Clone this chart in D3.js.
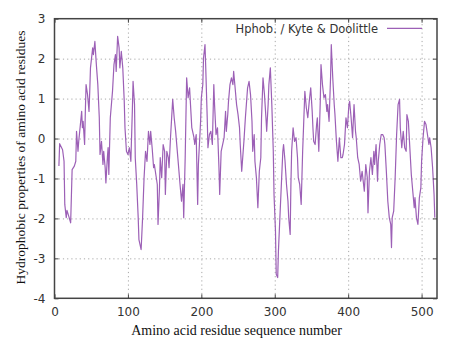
<!DOCTYPE html>
<html>
<head>
<meta charset="utf-8">
<script src="https://cdn.jsdelivr.net/npm/d3@7"></script>
<style>
  body { margin: 0; background: #fff; }
  svg { display: block; }
  .tick text { font-family: "DejaVu Sans", sans-serif; font-size: 12px; fill: #333; }
  .grid line { stroke: #a8a8a8; stroke-dasharray: 1.2,3; }
  .grid path { display: none; }
</style>
</head>
<body>
<div id="main"></div>
<script>
const ctx = {
    w: 455,
    h: 346,
    left: 54.5,
    right: 437,
    top: 18.7,
    bottom: 298.3,
    LINE_COLOR: "#9c60b6",
};

// residue number (x) and Kyte & Doolittle hydropathy (y)
const residues = [
  6,7,11,13,14,16,17,20,22,24,27,29,30,32,33,37,38,39,41,42,43,45,47,48,49,52,53,55,57,59,
  61,62,64,66,67,69,70,72,73,74,76,79,81,83,84,86,88,89,91,93,95,96,98,100,102,104,106,107,109,110,
  112,114,115,118,120,122,124,126,128,130,131,133,135,136,138,140,141,143,144,146,148,150,151,153,155,156,158,161,163,165,
  168,171,173,175,176,178,180,182,184,185,187,190,191,193,195,196,199,200,202,203,205,206,208,209,211,213,215,217,218,220,
  222,224,225,227,229,231,233,234,236,237,239,241,243,244,246,248,250,252,253,255,257,258,260,262,263,265,267,269,270,272,
  273,275,277,279,281,282,284,286,288,289,291,292,294,296,298,299,301,302,304,305,307,309,311,312,314,316,318,319,321,322,
  323,325,327,329,331,332,334,336,338,340,341,343,345,347,349,351,352,353,355,357,358,360,362,363,365,367,369,371,372,374,
  376,377,379,381,382,384,386,388,390,392,393,395,397,399,401,402,404,406,408,410,411,413,415,417,419,421,422,424,426,427,
  429,431,433,435,436,438,440,441,443,445,447,449,450,452,454,456,458,459,460,462,464,466,468,470,471,473,475,477,479,480,
  482,484,486,488,490,491,493,495,497,499,500,502,504,506,508,510,511,513,515,517,518
];
const hydropathy = [
  -0.69,-0.13,-0.28,-0.57,-1.65,-1.98,-1.80,-1.98,-2.11,-0.78,-0.69,-0.57,0.18,-0.32,-0.07,0.68,0.27,0.43,-0.15,0.68,1.35,1.10,0.68,1.18,1.77,2.27,2.10,2.43,1.85,1.35,
  0.52,-0.40,-0.07,-0.65,-0.32,-0.73,-1.11,-0.48,-0.23,-0.90,0.52,1.18,1.85,2.10,1.68,2.56,2.27,1.77,2.18,1.77,0.93,0.27,-0.32,-0.40,-0.23,-0.57,0.68,1.43,0.85,-0.48,
  -1.15,-1.98,-2.53,-2.78,-1.98,-0.98,-0.32,-0.57,0.18,-0.15,0.18,-0.23,-0.73,-0.65,-0.90,-1.15,-2.15,-1.23,-0.48,-0.98,-0.15,-0.32,-1.40,-0.32,-0.48,-0.73,0.02,0.98,0.52,0.18,
  -0.48,-1.15,-1.57,-1.15,-1.98,-0.48,1.52,1.02,1.27,0.93,0.27,0.02,-0.15,0.10,-1.65,-0.65,0.43,1.02,1.35,2.02,2.35,1.77,0.52,-0.23,0.10,0.18,-0.15,1.35,0.85,0.10,
  0.27,-0.73,-1.40,-0.32,-0.15,0.02,0.68,0.18,0.60,0.93,1.35,1.52,1.35,1.68,1.27,0.85,0.60,0.27,-0.15,-0.82,-0.32,-0.07,0.52,1.02,1.27,1.43,1.10,0.43,-0.32,0.10,
  -0.57,-0.98,-1.73,-0.82,-0.48,0.52,1.52,1.10,0.52,0.18,0.85,1.35,1.77,0.85,-0.32,-1.40,-2.32,-3.40,-3.48,-2.82,-1.98,-1.15,-0.32,-0.15,-0.57,-1.15,-1.57,-1.98,-2.40,-1.15,
  -0.32,0.27,-0.07,0.02,-0.48,-0.98,-1.15,-1.65,-0.32,0.68,1.18,0.77,0.52,0.93,1.27,0.68,0.27,-0.07,-0.15,0.35,0.52,-0.32,0.93,1.85,1.35,1.02,1.10,0.68,0.85,0.43,
  1.52,2.35,1.52,0.85,0.60,-0.07,-0.57,0.02,-0.48,-0.48,-0.40,-0.15,0.52,0.27,0.85,0.93,0.52,0.02,0.85,0.18,0.02,-0.48,-0.65,-1.07,-0.82,-1.15,-1.32,-0.65,-0.98,-1.86,
  -0.82,-0.48,-0.90,-0.32,-0.65,-0.15,-1.07,-0.57,-0.15,0.10,0.10,0.02,-0.15,-0.82,-1.57,-1.98,-2.15,-2.73,-1.98,-1.82,-0.98,0.10,0.85,0.98,0.27,-0.23,0.18,-0.23,-0.32,0.60,
  0.43,-0.23,-0.90,-1.32,-1.73,-1.48,-1.98,-2.15,-1.48,-1.23,-0.57,0.02,0.43,0.35,0.10,-0.15,0.02,-0.23,-0.73,-1.40,-1.98
];

const xTicks = [0, 100, 200, 300, 400, 500];
const yTicks = [-4, -3, -2, -1, 0, 1, 2, 3];
const xDomain = [0, 521];
const yDomain = [-4, 3];
const legendLabel = "Hphob. / Kyte & Doolittle";
const xTitle = "Amino acid residue sequence number";
const yTitle = "Hydrophobic properties of amino acid residues";

function createViz(){
    const svgEl = d3.select("#main").append("svg")
        .attr("width", ctx.w)
        .attr("height", ctx.h);

    const x = d3.scaleLinear().domain(xDomain).range([ctx.left, ctx.right]);
    const y = d3.scaleLinear().domain(yDomain).range([ctx.bottom, ctx.top]);
    const pw = ctx.right - ctx.left, ph = ctx.bottom - ctx.top;
    const plain = d => String(d);   // gnuplot style: plain hyphen minus, no decimals

    // dotted grid
    svgEl.append("g").attr("class", "grid")
        .attr("transform", `translate(0,${ctx.bottom})`)
        .call(d3.axisBottom(x).tickValues(xTicks.slice(1)).tickSize(-ph).tickFormat(""));
    svgEl.append("g").attr("class", "grid")
        .attr("transform", `translate(${ctx.left},0)`)
        .call(d3.axisLeft(y).tickValues(yTicks.slice(1, -1)).tickSize(-pw).tickFormat(""));

    // data line
    const pts = residues.map((r, i) => [r, hydropathy[i]]);
    svgEl.append("path")
        .datum(pts)
        .attr("fill", "none")
        .attr("stroke", ctx.LINE_COLOR)
        .attr("stroke-width", 1.2)
        .attr("stroke-linejoin", "round")
        .attr("d", d3.line().x(d => x(d[0])).y(d => y(d[1])));

    // axes with inward ticks, mirrored on top/right
    const axes = [
        [d3.axisBottom(x).tickValues(xTicks).tickFormat(plain).tickSizeInner(-4).tickSizeOuter(0).tickPadding(9), `translate(0,${ctx.bottom})`],
        [d3.axisLeft(y).tickValues(yTicks).tickFormat(plain).tickSizeInner(-4).tickSizeOuter(0).tickPadding(9), `translate(${ctx.left},0)`],
        [d3.axisTop(x).tickValues(xTicks).tickSizeInner(-4).tickSizeOuter(0).tickFormat(""), `translate(0,${ctx.top})`],
        [d3.axisRight(y).tickValues(yTicks).tickSizeInner(-4).tickSizeOuter(0).tickFormat(""), `translate(${ctx.right},0)`]
    ];
    axes.forEach(function(a){
        const g = svgEl.append("g").attr("transform", a[1]).call(a[0]);
        g.select(".domain").remove();
        g.selectAll(".tick line").attr("stroke", "#444").attr("stroke-width", 1);
    });

    // frame
    svgEl.append("rect")
        .attr("x", ctx.left).attr("y", ctx.top)
        .attr("width", pw).attr("height", ph)
        .attr("fill", "none")
        .attr("stroke", "#444")
        .attr("stroke-width", 1.5);

    // legend
    svgEl.append("text")
        .attr("x", 378).attr("y", 32.5)
        .attr("text-anchor", "end")
        .attr("font-family", "DejaVu Sans, sans-serif")
        .attr("font-size", 11.5)
        .attr("fill", "#333")
        .text(legendLabel);
    svgEl.append("line")
        .attr("x1", 387).attr("x2", 422)
        .attr("y1", 28.3).attr("y2", 28.3)
        .attr("stroke", ctx.LINE_COLOR)
        .attr("stroke-width", 1.2);

    // axis titles
    svgEl.append("text")
        .attr("x", 236.5).attr("y", 335)
        .attr("text-anchor", "middle")
        .attr("font-family", "Liberation Serif, serif")
        .attr("font-size", 14)
        .attr("fill", "#111")
        .text(xTitle);
    svgEl.append("text")
        .attr("transform", "translate(25,157.5) rotate(-90)")
        .attr("text-anchor", "middle")
        .attr("font-family", "Liberation Serif, serif")
        .attr("font-size", 13.5)
        .attr("fill", "#111")
        .text(yTitle);
}

createViz();
</script>
</body>
</html>
